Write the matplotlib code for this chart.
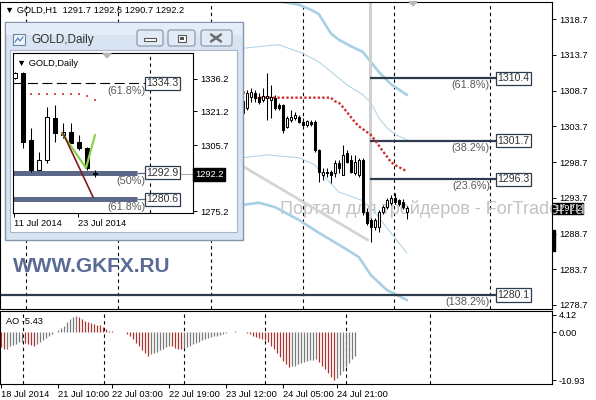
import numpy as np
import matplotlib
matplotlib.use("Agg")
import matplotlib.pyplot as plt
from matplotlib.patches import Rectangle, FancyBboxPatch, Polygon

plt.rcParams['font.family'] = ['Liberation Sans', 'DejaVu Sans']

# ------------------------------------------------------------------ data
header_text = "▼ GOLD,H1  1291.7 1292.6 1290.7 1292.2"

# H1 candles (bar index on the H1 chart)
candle_idx = list(range(60, 102))
open_ = [1305.6, 1306.3, 1307.8, 1308.4, 1307.8, 1307.4, 1307.7, 1307.4, 1307.7, 1306.7,
         1306.7, 1303.6, 1304.6, 1304.9, 1305.0, 1304.3, 1303.9, 1304.3, 1304.3, 1300.4,
         1296.9, 1297.3, 1297.3, 1297.2, 1298.6, 1296.9, 1300.0, 1299.0, 1297.2, 1296.9,
         1299.0, 1291.7, 1290.6, 1289.6, 1289.6, 1291.7, 1292.4, 1293.0, 1293.7, 1293.4,
         1293.1, 1291.7]
high_ = [1307.7, 1308.8, 1309.1, 1308.8, 1308.4, 1309.1, 1311.2, 1309.5, 1308.1, 1307.0,
         1306.8, 1305.1, 1306.0, 1305.7, 1305.3, 1304.9, 1304.6, 1304.6, 1304.6, 1300.5,
         1297.9, 1297.9, 1297.6, 1299.0, 1299.0, 1301.1, 1300.4, 1299.7, 1299.7, 1299.3,
         1299.3, 1292.3, 1290.9, 1290.9, 1292.0, 1292.7, 1293.7, 1294.1, 1294.4, 1293.5,
         1293.5, 1292.6]
low_ = [1305.3, 1306.0, 1307.1, 1307.1, 1306.8, 1307.1, 1304.6, 1304.9, 1306.0, 1306.0,
        1302.8, 1303.5, 1304.3, 1304.6, 1304.2, 1303.5, 1303.6, 1303.7, 1300.1, 1295.9,
        1296.2, 1296.6, 1295.8, 1296.6, 1297.2, 1296.9, 1298.6, 1297.2, 1296.9, 1296.6,
        1291.3, 1289.9, 1287.5, 1289.2, 1288.9, 1291.4, 1292.1, 1292.7, 1292.8, 1292.6,
        1292.1, 1290.7]
close_ = [1307.2, 1308.4, 1308.5, 1307.7, 1307.1, 1307.9, 1307.9, 1307.8, 1306.3, 1306.3,
          1303.2, 1304.9, 1305.0, 1305.3, 1304.3, 1303.9, 1304.4, 1304.0, 1300.4, 1297.3,
          1297.3, 1297.2, 1296.9, 1298.6, 1297.9, 1299.7, 1298.7, 1297.3, 1298.7, 1299.0,
          1291.7, 1290.2, 1289.6, 1290.6, 1291.7, 1292.4, 1293.4, 1293.7, 1293.1, 1292.8,
          1292.4, 1292.2]

# red dotted indicator, one value per candle
red_dots = [1308.5, 1308.2, 1307.9, 1307.7, 1307.7, 1307.7, 1307.7, 1307.7, 1307.7, 1307.7,
            1307.7, 1307.7, 1307.7, 1307.7, 1307.7, 1307.7, 1307.7, 1307.7, 1307.7, 1307.7,
            1307.7, 1307.7, 1307.7, 1307.2, 1307.0, 1306.4, 1305.7, 1305.0, 1304.3, 1303.7,
            1303.3, 1302.9, 1302.5, 1301.8, 1301.0, 1300.2, 1299.5, 1298.7, 1298.3, 1298.0,
            1297.7, 1297.4]

# light-blue envelope lines (vertices)
upper_thick_x = [58, 70, 74, 77, 79, 82, 84, 87, 90, 94, 97, 101]
upper_thick_y = [1324.2, 1321.1, 1320.7, 1320.0, 1319.4, 1316.7, 1315.8, 1314.9, 1314.1, 1311.3, 1309.6, 1308.1]
upper_thin_x = [60, 65, 69, 75, 79, 83, 86, 90, 92, 94, 96, 98, 101]
upper_thin_y = [1314.6, 1314.9, 1315.1, 1313.9, 1312.7, 1310.9, 1309.5, 1308.1, 1307.0, 1304.9, 1303.5, 1302.6, 1301.8]
lower_thin_x = [60, 66, 74, 78, 80, 84, 88, 90, 93, 96, 101]
lower_thin_y = [1299.3, 1299.7, 1299.3, 1298.3, 1296.9, 1294.5, 1293.7, 1293.3, 1291.7, 1289.5, 1286.0]
lower_thick_x = [60, 64, 68, 74, 79, 85, 89, 92, 96, 101]
lower_thick_y = [1292.7, 1293.0, 1292.4, 1290.6, 1288.8, 1286.8, 1285.4, 1282.9, 1280.8, 1279.4]

# grey trend line
trend_x = [60, 91.2]
trend_y = [1298.1, 1287.8]

# Fibonacci levels on H1
fib_levels = [1310.4, 1301.7, 1296.3, 1280.1]
fib_pcts = ["(61.8%)", "(38.2%)", "(23.6%)", "(138.2%)"]
fib_from = [91.8, 91.8, 91.8, -0.7]
fib_to = 123.6
fib_anchor_x = 91.8
fib_anchor_low = 1290.4

price_ticks = [1318.7, 1313.7, 1308.7, 1303.7, 1298.7, 1293.7, 1288.7, 1283.7, 1278.7]
last_price = 1292.2

# Awesome Oscillator
ao_values = [-3.3, -3.9, -3.7, -3.2, -2.8, -2.6, -2.3, -2.2,
             -2.4, -2.6, -2.9, -3.0, -2.6, -2.3, -1.8, -1.2, -0.8, -0.4,
             0.2, 0.6, 1.0, 1.6, 2.4, 3.0, 3.5, 3.8,
             3.5, 3.1, 2.6, 2.3, 2.1, 1.9, 1.8, 1.7, 1.2, 0.8, 0.4, 0.25, 0.15,
             0.2, 0.1, 0.05,
             -0.3, -0.9, -1.6, -2.4, -3.2, -4.0, -4.8, -5.3,
             -5.0, -4.7, -4.4, -4.0, -3.7, -3.3, -3.0,
             -3.2, -3.5, -3.7, -3.8,
             -3.6, -3.3, -3.0, -2.7, -2.4, -2.1, -1.8, -1.5, -1.3, -1.1, -0.9, -0.7, -0.5, -0.3, -0.15,
             0.1, 0.2, 0.25, 0.2, 0.1, 0.15, -0.2,
             -0.4, -0.7, -1.0, -1.3, -1.5, -1.8, -2.3, -3.0, -3.8, -4.7, -5.6, -6.5, -7.3, -7.9,
             -7.8, -7.6, -7.3, -7.0, -6.8, -6.6, -6.4, -6.3, -6.2,
             -6.8, -7.6, -8.5, -9.4, -10.2, -10.93,
             -10.4, -9.7, -8.9, -8.0, -7.1, -6.2, -5.43]
ao_label = "AO -5.43"
ao_ticks = [4.12, 0.0, -10.93]
ao_tick_labels = ["4.12", "0.00", "-10.93"]
time_tick_bars = [0, 19, 37, 56, 75, 94, 112]
time_labels = ["18 Jul 2014", "21 Jul 10:00", "22 Jul 03:00", "22 Jul 19:00",
               "23 Jul 12:00", "24 Jul 05:00", "24 Jul 21:00"]

# Daily inset
daily_idx = list(range(11))
d_open = [1336.6, 1339.0, 1308.0, 1294.1, 1298.8, 1318.2, 1310.3, 1311.7, 1307.1, 1304.3, 1293.0]
d_high = [1339.5, 1339.4, 1313.6, 1302.5, 1323.3, 1324.2, 1315.9, 1315.9, 1310.3, 1304.8, 1294.1]
d_low = [1336.0, 1304.3, 1293.2, 1294.1, 1297.4, 1307.1, 1309.0, 1306.6, 1303.4, 1294.1, 1290.8]
d_close = [1339.0, 1307.1, 1294.1, 1298.8, 1318.6, 1311.2, 1311.7, 1306.6, 1304.3, 1295.1, 1292.2]
d_dots_x = [2, 3, 4, 5, 6, 7, 8, 9, 10]
d_dots_y = [1329.3, 1329.3, 1329.3, 1329.3, 1329.3, 1329.3, 1329.3, 1328.3, 1326.5]
green_x = [5.875, 8.875, 10.0]
green_y = [1311.2, 1295.1, 1310.3]
darkred_x = [6.0, 9.75]
darkred_y = [1311.2, 1281.7]
d_fib_levels = [1334.3, 1292.9, 1280.6]
d_fib_pcts = ["(61.8%)", "(50%)", "(61.8%)"]
d_price_ticks = [1336.2, 1321.2, 1305.7, 1275.2]
d_time_ticks = [-0.125, 7.875]
d_time_labels = ["11 Jul 2014", "23 Jul 2014"]

# ------------------------------------------------------------------ layout
W, H = 596, 400
fig = plt.figure(figsize=(W / 100, H / 100), dpi=100)
fig.patch.set_facecolor('white')


def fb(x0, y0, x1, y1):
    return [x0 / W, 1 - y1 / H, (x1 - x0) / W, (y1 - y0) / H]


SMALL = 6.7
DASH = (0, (3, 3))

# ---------------- main H1 chart
ax = fig.add_axes(fb(0, 2, 552, 309))
ax.set_xlim(-0.7, 137.3)
ax.set_ylim(1278.14, 1321.08)
for s in ax.spines.values():
    s.set_color('black')
    s.set_linewidth(0.8)
ax.set_xticks([])
ax.yaxis.tick_right()
ax.set_yticks(price_ticks)
ax.set_yticklabels([f"{v:.1f}" for v in price_ticks])
ax.tick_params(axis='y', length=3, width=0.7, pad=2, labelsize=SMALL, colors='black')

for gx in [5.8, 28.9, 52.0, 75.0, 97.9, 121.9]:
    ax.axvline(gx, color='black', lw=0.8, ls=DASH, zorder=1)

# watermark + current price box (outside the plot, under the watermark)
ax.text(554 / W, 1 - 208.5 / H, f"{last_price:.1f}", transform=fig.transFigure, color='white',
        fontsize=SMALL, va='center', ha='left', clip_on=False, zorder=1,
        bbox=dict(boxstyle='square,pad=0.12', fc='black', ec='black'))
ax.text(280 / W, 1 - 209 / H, "Портал для трейдеров - ForTrader.ru", transform=fig.transFigure,
        color='#c3c3c3', fontsize=13, va='center', ha='left', clip_on=False, zorder=1.5)

# envelope lines
ax.plot(upper_thick_x, upper_thick_y, color='#a8d0e5', lw=1.9, zorder=2)
ax.plot(lower_thick_x, lower_thick_y, color='#a8d0e5', lw=1.9, zorder=2)
ax.plot(upper_thin_x, upper_thin_y, color='#b4d6e8', lw=0.8, zorder=2)
ax.plot(lower_thin_x, lower_thin_y, color='#b4d6e8', lw=0.8, zorder=2)
ax.plot(trend_x, trend_y, color='#d4d4d4', lw=2.0, zorder=2)

# fib anchor and levels
ax.vlines(fib_anchor_x, fib_anchor_low, 1322, color='#d0d0d0', lw=2.2, zorder=2)
for lvl, pct, x0 in zip(fib_levels, fib_pcts, fib_from):
    ax.hlines(lvl, x0, fib_to, color='#2d3c4c', lw=1.6, zorder=2.5)
    ax.text(fib_to, lvl, f"{lvl:.1f}", fontsize=7.6, color='#333333', va='center', ha='left',
            zorder=5, bbox=dict(boxstyle='square,pad=0.15', fc='white', ec='#2d3c4c', lw=0.9))
    ax.annotate(pct, xy=(121.8, lvl), xytext=(0, -1.5), textcoords='offset points',
                fontsize=7.8, color='#5a5a5a', ha='right', va='top', zorder=5)

# red dotted indicator
ax.plot(candle_idx, red_dots, color='#cc2f2f', lw=1.7, ls=(0, (1, 0.9)), zorder=3.5)


def draw_candles(a, x, o, h, l, c, width, lw):
    x = np.asarray(x, float)
    o = np.asarray(o)
    h = np.asarray(h)
    l = np.asarray(l)
    c = np.asarray(c)
    a.vlines(x, l, h, color='black', lw=lw, zorder=3)
    up = c >= o
    a.bar(x, np.abs(c - o), width=width, bottom=np.minimum(o, c),
          color=np.where(up, 'white', 'black'), edgecolor='black', linewidth=lw, zorder=4)


draw_candles(ax, candle_idx, open_, high_, low_, close_, 0.55, 0.75)

# ---------------- AO panel
ao = fig.add_axes(fb(0, 311, 552, 384))
ao.set_xlim(-0.33, 183.67)
ao.set_ylim(-11.84, 4.94)
for s in ao.spines.values():
    s.set_color('black')
    s.set_linewidth(0.8)
vals = np.asarray(ao_values)
prev = np.concatenate([[vals[0] + 1], vals[:-1]])
cols = np.where(vals > prev, '#7a7a7a', '#a83434')
ao.vlines(np.arange(len(vals)), 0, vals, colors=cols, lw=0.9, zorder=3)
for gx in [7.3, 34.3, 61.0, 88.0, 115.0, 143.0]:
    ao.axvline(gx, color='black', lw=0.8, ls=DASH, zorder=1)
ao.yaxis.tick_right()
ao.set_yticks(ao_ticks)
ao.set_yticklabels(ao_tick_labels)
ao.tick_params(axis='y', length=3, width=0.7, pad=2, labelsize=SMALL)
ao.set_xticks(time_tick_bars)
ao.set_xticklabels(time_labels)
ao.tick_params(axis='x', length=3, width=0.7, pad=1.5, labelsize=SMALL)
for t in ao.get_xticklabels():
    t.set_horizontalalignment('left')
ao.text(6 / 552, (384 - 321) / 73, ao_label, transform=ao.transAxes, fontsize=SMALL,
        va='center', ha='left')

# ---------------- overlay (pixel coordinates) : window frame & decorations
ov = fig.add_axes([0, 0, 1, 1], zorder=5)
ov.set_xlim(0, W)
ov.set_ylim(H, 0)
ov.axis('off')
ov.patch.set_alpha(0)

ov.text(5, 10, header_text, fontsize=SMALL, va='center', ha='left', color='black')
ov.add_patch(Polygon([(409, 1.5), (417, 1.5), (413, 6)], closed=True, color='#b8b8b8'))
ov.text(13, 267, "WWW.GKFX.RU", fontsize=15, fontweight='bold', color='#5a6b95',
        va='center', ha='left')
ov.add_patch(Rectangle((552.5, 230), 2.5, 21, color='black'))

# window
ov.add_patch(Rectangle((5, 22), 238, 218, fc='#d8e4f2', ec='#8596ad', lw=1))
ov.add_patch(Rectangle((6, 23), 236, 12, fc='#e3ecf7', ec='none'))
ov.add_patch(Rectangle((10, 50), 227, 182, fc='white', ec='#a9b6c8', lw=0.8))
# title icon
ov.add_patch(Rectangle((13, 34), 12, 11, fc='#eef3f9', ec='#6d84a5', lw=0.8))
ov.plot([15, 18, 20, 23], [42, 38, 41, 37], color='#4a7ab8', lw=0.8)
ov.text(31, 40, "GOLD,Daily", fontsize=8.5, color='#2e2e2e', va='center', ha='left')
# buttons
for bx, bw in [(137, 26), (168, 27), (201, 31)]:
    ov.add_patch(FancyBboxPatch((bx, 30), bw, 16, boxstyle='round,pad=0,rounding_size=2.5',
                                fc='#e2eaf5', ec='#8192a9', lw=0.8))
ov.add_patch(Rectangle((144, 38), 12, 3, fc='white', ec='#555555', lw=0.8))
ov.add_patch(Rectangle((178, 34.5), 8, 7, fc='white', ec='#555555', lw=0.8))
ov.add_patch(Rectangle((180, 36.5), 4, 3, fc='#555555', ec='none'))
ov.plot([211, 221], [34.5, 41.5], color='#6d6d6d', lw=1.8, solid_capstyle='round')
ov.plot([211, 221], [41.5, 34.5], color='#6d6d6d', lw=1.8, solid_capstyle='round')

# ---------------- daily inset chart
ai = fig.add_axes(fb(13, 53, 193, 213), zorder=6)
ai.set_facecolor('white')
ai.set_xlim(-0.25, 22.25)
ai.set_ylim(1274.3, 1348.2)
for s in ai.spines.values():
    s.set_color('black')
    s.set_linewidth(0.8)
ai.yaxis.tick_right()
ai.set_yticks(d_price_ticks)
ai.set_yticklabels([f"{v:.1f}" for v in d_price_ticks])
ai.tick_params(axis='y', length=3, width=0.7, pad=2, labelsize=SMALL)
ai.set_xticks(d_time_ticks)
ai.set_xticklabels(d_time_labels)
ai.tick_params(axis='x', length=3, width=0.7, pad=1.5, labelsize=SMALL)
for t in ai.get_xticklabels():
    t.set_horizontalalignment('left')

ai.text(0.022, 0.9375, "▼ GOLD,Daily", transform=ai.transAxes, fontsize=SMALL,
        va='center', ha='left')
ai.add_patch(Polygon([(103, 53.5), (111, 53.5), (107, 58)], closed=True, color='#b8b8b8',
                     transform=ov.transData, clip_on=False, zorder=6))
ai.axvline(16.875, color='black', lw=0.8, ls=DASH, zorder=1)

# fib on daily
ai.hlines(d_fib_levels[0], -0.25, 16.4, color='black', lw=0.8, ls=(0, (9, 4)), zorder=2)
for lvl in d_fib_levels[1:]:
    ai.hlines(lvl, -0.25, 15.25, color='#5b6888', lw=3.6, zorder=2)
    ai.hlines(lvl, 15.25, 16.4, color='#5b6888', lw=0.9, zorder=2)
for lvl, pct in zip(d_fib_levels, d_fib_pcts):
    ai.text(16.4, lvl, f"{lvl:.1f}", fontsize=7.6, color='#333333', va='center', ha='left',
            zorder=5, clip_on=False,
            bbox=dict(boxstyle='square,pad=0.15', fc='white', ec='#2d3c4c', lw=0.9))
    ai.annotate(pct, xy=(16.3, lvl), xytext=(0, -2), textcoords='offset points',
                fontsize=7.8, color='#5a5a5a', ha='right', va='top', zorder=5)

ai.hlines(last_price, 20.6, 22.25, color='#b0b0b0', lw=0.8, zorder=2)
ai.text(1.012, last_price, f"{last_price:.1f}", transform=ai.get_yaxis_transform(),
        color='white', fontsize=SMALL, va='center', ha='left', clip_on=False, zorder=6,
        bbox=dict(boxstyle='square,pad=0.2', fc='black', ec='black'))

ai.scatter(d_dots_x, d_dots_y, s=3, marker='s', color='#d9534f', zorder=3, linewidths=0)
draw_candles(ai, daily_idx, d_open, d_high, d_low, d_close, 0.6, 0.75)
ai.plot(green_x, green_y, color='#8fd14f', lw=1.6, zorder=5)
ai.plot(darkred_x, darkred_y, color='#7d1d1d', lw=1.2, zorder=5)

fig.savefig("out.png", dpi=100, facecolor='white')
